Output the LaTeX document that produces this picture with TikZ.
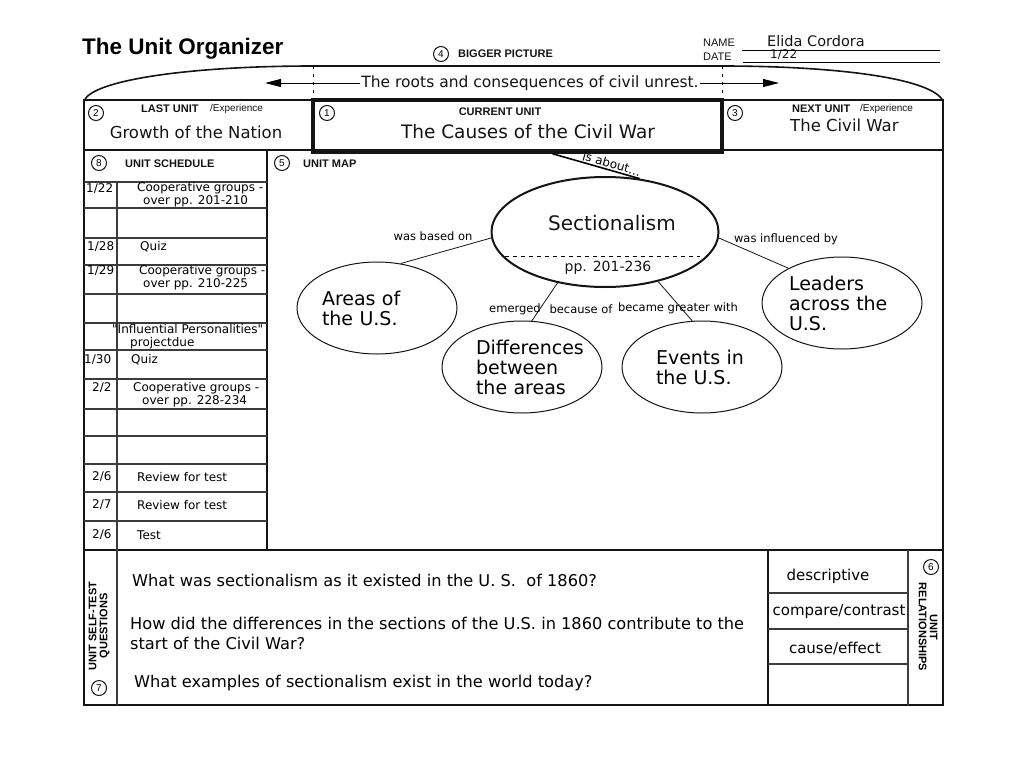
\documentclass[tikz,border=0pt]{standalone}
\usepackage{fontspec}
\setmainfont{Liberation Sans}
\newfontfamily\handfont{DejaVu Sans}
\usepackage{tikz}
\usetikzlibrary{arrows.meta,shapes.geometric,calc}
\definecolor{inkcol}{RGB}{20,20,20}
\definecolor{gridcol}{RGB}{60,60,60}
\tikzset{
  % circled section number
  numcirc/.style={circle, draw=inkcol, line width=1pt, inner sep=0pt, minimum size=15pt,
                  font=\fontsize{10}{10}\selectfont},
  % printed form label
  formlbl/.style={font=\fontsize{11}{12}\selectfont\bfseries, inner sep=0pt, text=inkcol},
  % light printed label
  formsub/.style={font=\fontsize{10}{12}\selectfont, inner sep=0pt, text=inkcol},
  % unit names in the top row
  unittxt/.style={font=\handfont\fontsize{#1}{#1}\selectfont, inner sep=0pt, text=inkcol},
  unittxt/.default={16.5},
  % schedule entries
  schedtxt/.style={font=\handfont\fontsize{12}{13}\selectfont, inner sep=0pt, anchor=west, align=left},
  % link words on the map
  maptxt/.style={font=\handfont\fontsize{11.5}{12}\selectfont, inner sep=0pt},
  % concept bubble
  bubble/.style={ellipse, draw=inkcol, line width=1pt, minimum width=160pt, minimum height=92pt,
                 inner sep=0pt, text width=#1, align=left, font=\handfont\fontsize{19}{20}\selectfont},
  bubble/.default={100pt},
  % self-test questions
  qtxt/.style={font=\handfont\fontsize{16.2}{20}\selectfont, inner sep=0pt, anchor=west, align=left},
  % relationship words
  reltxt/.style={font=\handfont\fontsize{15}{16}\selectfont, inner sep=0pt},
  % rotated side labels
  sidelbl/.style={font=\fontsize{11}{11}\selectfont\bfseries, inner sep=0pt, align=center},
  frameline/.style={line width=1.6pt, draw=inkcol},
  gridline/.style={line width=1.1pt, draw=gridcol},
  maplink/.style={line width=0.8pt, draw=inkcol},
  bigarrow/.style={-{Triangle[length=16pt,width=8pt]}, line width=1pt},
}

\begin{document}
\begin{tikzpicture}[x=1pt, y=-1pt]
  \useasboundingbox (0,0) rectangle (1024,768);

  % ═══════ TITLE / NAME ═══════
  \node[font=\fontsize{22.5}{24}\selectfont\bfseries, inner sep=0pt, anchor=west] (title) at (82,49) {The Unit Organizer};
  \node[numcirc] (n4) at (441,54) {4};
  \node[formlbl, anchor=west] (bigpic) at (458,54) {BIGGER PICTURE};
  \node[formsub, font=\fontsize{11}{12}\selectfont, anchor=west] (namelbl) at (703,43) {NAME};
  \node[formsub, font=\fontsize{11}{12}\selectfont, anchor=west] (datelbl) at (703,57) {DATE};
  \draw[line width=0.8pt] (742,50) -- (940,50);
  \draw[line width=0.8pt] (743,62) -- (940,62);
  \node[unittxt=14.5, anchor=west] (namev) at (767,41) {Elida Cordora};
  \node[unittxt=12, anchor=west] (datev) at (770,54.5) {1/22};

  % ═══════ BIGGER PICTURE ARC ═══════
  \draw[frameline] (84,101) .. controls (92,80) and (190,66) .. (313,66) -- (722,66)
    .. controls (835,66) and (932,78) .. (943,101);
  \draw[line width=0.7pt, dash pattern=on 3pt off 5pt] (313,66) -- (313,100);
  \draw[line width=0.7pt, dash pattern=on 3pt off 5pt] (722,66) -- (722,100);
  \node[unittxt=15.5, inner sep=1pt] (roots) at (530,83) {The roots and consequences of civil unrest.};
  \coordinate (rootsL) at (265,83);
  \coordinate (rootsR) at (779,83);
  \draw[bigarrow] (roots) -- (rootsL);
  \draw[bigarrow] (roots) -- (rootsR);

  % ═══════ FRAME ═══════
  \draw[frameline] (84,100) rectangle (943,705);
  \draw[frameline] (84,150) -- (943,150);
  \draw[frameline] (84,550) -- (943,550);
  \draw[frameline] (267,150) -- (267,550);

  % ═══════ LAST / CURRENT / NEXT UNIT ═══════
  \node[numcirc] (n2) at (96,113) {2};
  \node[formlbl, anchor=west] (lasthd) at (141,109) {LAST UNIT};
  \node[formsub, anchor=west] (lastexp) at (210,109) {/Experience};
  \node[unittxt] (lastunit) at (196,132) {Growth of the Nation};

  \node[draw=inkcol, line width=3.5pt, minimum width=409pt, minimum height=52pt, inner sep=0pt] (cur) at (517.5,126) {};
  \node[numcirc] (n1) at (327,113) {1};
  \node[formlbl] (curhd) at (500,112) {CURRENT UNIT};
  \node[unittxt=18.5] (curunit) at (528,132) {The Causes of the Civil War};

  \node[numcirc] (n3) at (735,113) {3};
  \node[formlbl, anchor=west] (nexthd) at (792,109) {NEXT UNIT};
  \node[formsub, anchor=west] (nextexp) at (860,109) {/Experience};
  \node[unittxt, anchor=west] (nextunit) at (790,125) {The Civil War};

  % ═══════ UNIT SCHEDULE ═══════
  \node[numcirc] (n8) at (99,163) {8};
  \node[formlbl, anchor=west] (schedhd) at (125,164) {UNIT SCHEDULE};
  \foreach \ry in {182,208,238,265,294,323,350,379,409,436,464,492,521}
    \draw[gridline] (84,\ry) -- (267,\ry);
  \draw[gridline] (117,182) -- (117,705);

  \node[schedtxt] (d1) at (86,189) {1/22};
  \node[schedtxt] (e1) at (137,195) {Cooperative groups -\\\hspace*{6pt}over pp. 201-210};
  \node[schedtxt] (d2) at (87,247) {1/28};
  \node[schedtxt] (e2) at (140,247) {Quiz};
  \node[schedtxt] (d3) at (87,271) {1/29};
  \node[schedtxt] (e3) at (139,278) {Cooperative groups -\\\hspace*{4pt}over pp. 210-225};
  \node[schedtxt] (e4) at (112,337) {"Influential Personalities"\\\hspace*{18pt}projectdue};
  \node[schedtxt] (d5) at (84,360) {1/30};
  \node[schedtxt] (e5) at (131,360) {Quiz};
  \node[schedtxt] (d6) at (92,388) {2/2};
  \node[schedtxt] (e6) at (133,395) {Cooperative groups -\\\hspace*{9pt}over pp. 228-234};
  \node[schedtxt] (d7) at (92,477) {2/6};
  \node[schedtxt] (e7) at (137,477) {Review for test};
  \node[schedtxt] (d8) at (92,505) {2/7};
  \node[schedtxt] (e8) at (137,505) {Review for test};
  \node[schedtxt] (d9) at (92,535) {2/6};
  \node[schedtxt] (e9) at (137,535) {Test};

  % ═══════ UNIT MAP ═══════
  \node[numcirc] (n5) at (282,163) {5};
  \node[formlbl, anchor=west] (maphd) at (303,164) {UNIT MAP};

  \node[ellipse, draw=inkcol, line width=2pt, minimum width=227pt, minimum height=110pt] (sect) at (605,232) {};
  \node[unittxt=20] (secttitle) at (612,223) {Sectionalism};
  \draw[line width=0.7pt, dash pattern=on 4pt off 4pt] (505,256) -- (700,256);
  \node[unittxt=14] (sectpp) at (608,268) {pp. 201-236};

  \coordinate (aboutstart) at ($(cur.south west)!0.585!(cur.south east)$);
  \draw[line width=1.6pt] (aboutstart) -- (sect.57)
    node[pos=0.66, sloped, above=0pt, font=\handfont\fontsize{12}{12}\selectfont, inner sep=1pt] {is about\dots};

  \node[bubble=110pt] (areas) at (377,308) {Areas of\\the U.S.};
  \node[bubble=92pt] (diffs) at (522,367) {Differences\\between\\the areas};
  \node[bubble=92pt] (events) at (702,367) {Events in\\the U.S.};
  \node[bubble=106pt] (leaders) at (842,303) {Leaders\\across the\\U.S.};

  \draw[maplink] (sect.183) -- (areas.62);
  \draw[maplink] (sect.227) -- (diffs.78);
  \draw[maplink] (sect.317) -- (events.102);
  \draw[maplink] (sect.357) -- (leaders.147);

  \node[maptxt] (lbased) at (433,236) {was based on};
  \node[maptxt] (linfl) at (786,239) {was influenced by};
  \node[maptxt] (lemerg) at (515,309) {emerged};
  \node[maptxt] (lbecause) at (581,309) {because of};
  \node[maptxt] (lgreater) at (678,308) {became greater with};

  % ═══════ SELF-TEST QUESTIONS ═══════
  \node[sidelbl, rotate=90] (qside) at (99,626) {UNIT SELF-TEST\\QUESTIONS};
  \node[numcirc] (n7) at (99,688) {7};
  \node[qtxt] (q1) at (132,580) {What was sectionalism as it existed in the U. S.\ \ of 1860?};
  \node[qtxt] (q2) at (130,633) {How did the differences in the sections of the U.S. in 1860 contribute to the\\start of the Civil War?};
  \node[qtxt] (q3) at (134,683) {What examples of sectionalism exist in the world today?};

  % ═══════ UNIT RELATIONSHIPS ═══════
  \draw[frameline] (768,550) -- (768,705);
  \draw[gridline] (908,550) -- (908,705);
  \foreach \ry in {593,629,664}
    \draw[gridline] (768,\ry) -- (908,\ry);
  \node[reltxt] (rdesc) at (828,576) {descriptive};
  \node[reltxt] (rcomp) at (839,612) {compare/contrast};
  \node[reltxt] (rcause) at (835,648) {cause/effect};
  \node[numcirc] (n6) at (931,567) {6};
  \node[sidelbl, rotate=-90] (rside) at (928,627) {UNIT\\RELATIONSHIPS};

\end{tikzpicture}
\end{document}
